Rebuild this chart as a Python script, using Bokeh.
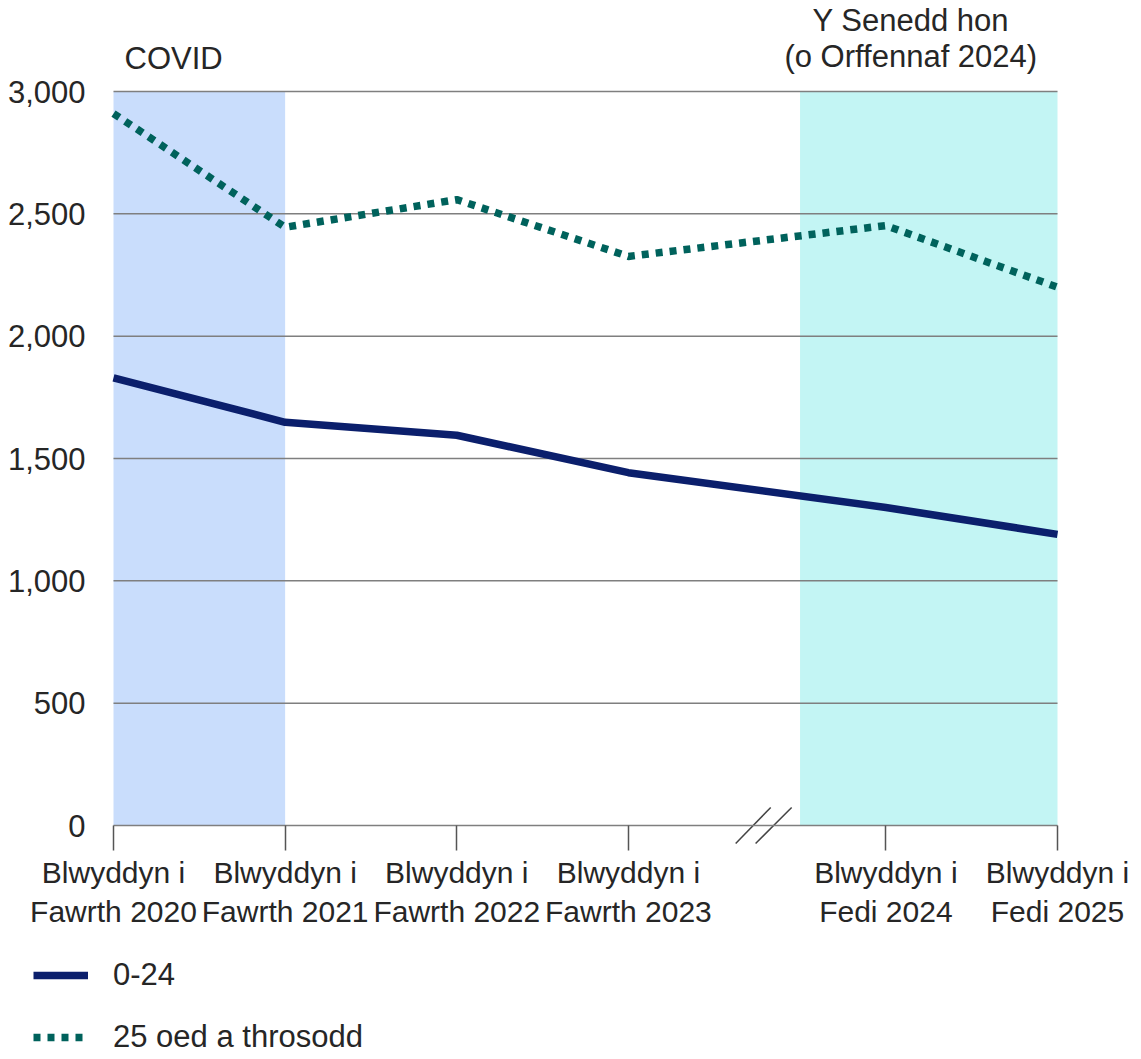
from bokeh.plotting import figure
from bokeh.models import (BoxAnnotation, Label, Legend, LegendItem, FixedTicker,
                          NumeralTickFormatter, Range1d)
from bokeh.embed import file_html
from bokeh.resources import INLINE

# ---- data ----
periods = ["Blwyddyn i\nFawrth 2020", "Blwyddyn i\nFawrth 2021", "Blwyddyn i\nFawrth 2022",
           "Blwyddyn i\nFawrth 2023", "Blwyddyn i\nFedi 2024", "Blwyddyn i\nFedi 2025"]
x_pos = [0, 1, 2, 3, 4.5, 5.5]          # gap between 2023 and 2024 (axis break)
age_0_24 = [1830, 1648, 1595, 1442, 1300, 1190]
age_25_plus = [2910, 2445, 2558, 2326, 2452, 2200]
y_ticks = [0, 500, 1000, 1500, 2000, 2500, 3000]
covid_span = (0, 1)
senedd_span = (4, 5.5)

# ---- layout (pixels of the plotting area inside the canvas) ----
W, H = 1141, 1059
PX_L, PX_R, PX_T, PX_B = 113, 1057, 91, 825
X0, X1, Y0, Y1 = 0, 5.5, 0, 3000
sx = (PX_R - PX_L) / (X1 - X0)
sy = (PX_B - PX_T) / (Y1 - Y0)
xr = Range1d(X0 - PX_L / sx, X1 + (W - PX_R) / sx)
yr = Range1d(Y0 - (H - PX_B) / sy, Y1 + PX_T / sy)

FONT = "Liberation Sans"
FS = "31px"
TXT = "#262626"
GRID = "#7f7f7f"
NAVY = "#0b1f6c"
TEAL = "#00625c"

p = figure(width=W, height=H, output_backend="svg", toolbar_location=None,
           x_range=xr, y_range=yr, min_border=0)
p.outline_line_color = None
p.background_fill_color = "white"
p.border_fill_color = "white"

# shaded periods
p.add_layout(BoxAnnotation(left=covid_span[0], right=covid_span[1], bottom=Y0, top=Y1,
                           fill_color="#c9ddfc", fill_alpha=1, line_color=None, level="image"))
p.add_layout(BoxAnnotation(left=senedd_span[0], right=senedd_span[1], bottom=Y0, top=Y1,
                           fill_color="#c3f5f4", fill_alpha=1, line_color=None, level="image"))

# grid lines (only across the plotting area)
p.xgrid.visible = False
p.ygrid.visible = False
gy = [v for v in y_ticks if v > 0]
p.segment(x0=[X0] * len(gy), y0=gy, x1=[X1] * len(gy), y1=gy,
          line_color=GRID, line_width=1.5, level="underlay")

# y axis
p.yaxis.fixed_location = X0
p.yaxis.bounds = (Y0, Y1)
p.yaxis.ticker = FixedTicker(ticks=y_ticks)
p.yaxis.formatter = NumeralTickFormatter(format="0,0")
p.yaxis.axis_line_color = None
p.yaxis.major_tick_line_color = None
p.yaxis.minor_tick_line_color = None
p.yaxis.major_tick_out = 0
p.yaxis.major_tick_in = 0
p.yaxis.major_label_standoff = 28
p.yaxis.major_label_text_font = FONT
p.yaxis.major_label_text_font_size = FS
p.yaxis.major_label_text_color = TXT

# x axis
p.xaxis.fixed_location = Y0
p.xaxis.bounds = (X0, X1)
p.xaxis.ticker = FixedTicker(ticks=x_pos)
p.xaxis.major_label_overrides = {x: lab for x, lab in zip(x_pos, periods)}
p.xaxis.axis_line_color = GRID
p.xaxis.axis_line_width = 1.5
p.xaxis.major_tick_line_color = "#555555"
p.xaxis.major_tick_line_width = 1.5
p.xaxis.major_tick_out = 25
p.xaxis.major_tick_in = 0
p.xaxis.minor_tick_line_color = None
p.xaxis.major_label_standoff = 5
p.xaxis.major_label_text_font = FONT
p.xaxis.major_label_text_font_size = "30px"
p.xaxis.major_label_text_color = TXT
p.xaxis.major_label_text_line_height = 1.2

# lines
r1 = p.line(x_pos, age_0_24, line_color=NAVY, line_width=7.5, line_join="round")
r2 = p.line(x_pos, age_25_plus, line_color=TEAL, line_width=7.5, line_dash="7 7",
            line_cap="butt")

# axis break marks (two slashes)
bx0 = [3.625, 3.741]
bx1 = [3.829, 3.951]
p.segment(x0=bx0, y0=[-18 / sy] * 2, x1=bx1, y1=[18 / sy] * 2,
          line_color="#444444", line_width=1.5)

# annotation texts
p.add_layout(Label(x=X0, y=Y1, x_offset=11, y_offset=33, text="COVID",
                   text_font=FONT, text_font_size=FS, text_color=TXT,
                   text_align="left", text_baseline="alphabetic"))
p.add_layout(Label(x=4.75, y=Y1, x_offset=-18, y_offset=71, text="Y Senedd hon",
                   text_font=FONT, text_font_size=FS, text_color=TXT,
                   text_align="center", text_baseline="alphabetic"))
p.add_layout(Label(x=4.75, y=Y1, x_offset=-18, y_offset=35, text="(o Orffennaf 2024)",
                   text_font=FONT, text_font_size=FS, text_color=TXT,
                   text_align="center", text_baseline="alphabetic"))

# legend
legend = Legend(items=[LegendItem(label="0-24", renderers=[r1]),
                       LegendItem(label="25 oed a throsodd", renderers=[r2])],
                location=(33, 4), orientation="vertical")
legend.glyph_width = 55
legend.glyph_height = 24
legend.label_height = 24
legend.label_standoff = 25
legend.spacing = 26
legend.padding = 0
legend.margin = 0
legend.border_line_color = None
legend.background_fill_alpha = 0
legend.label_text_font = FONT
legend.label_text_font_size = FS
legend.label_text_color = TXT
p.add_layout(legend, "center")

open("out.html", "w").write(file_html(p, INLINE))
